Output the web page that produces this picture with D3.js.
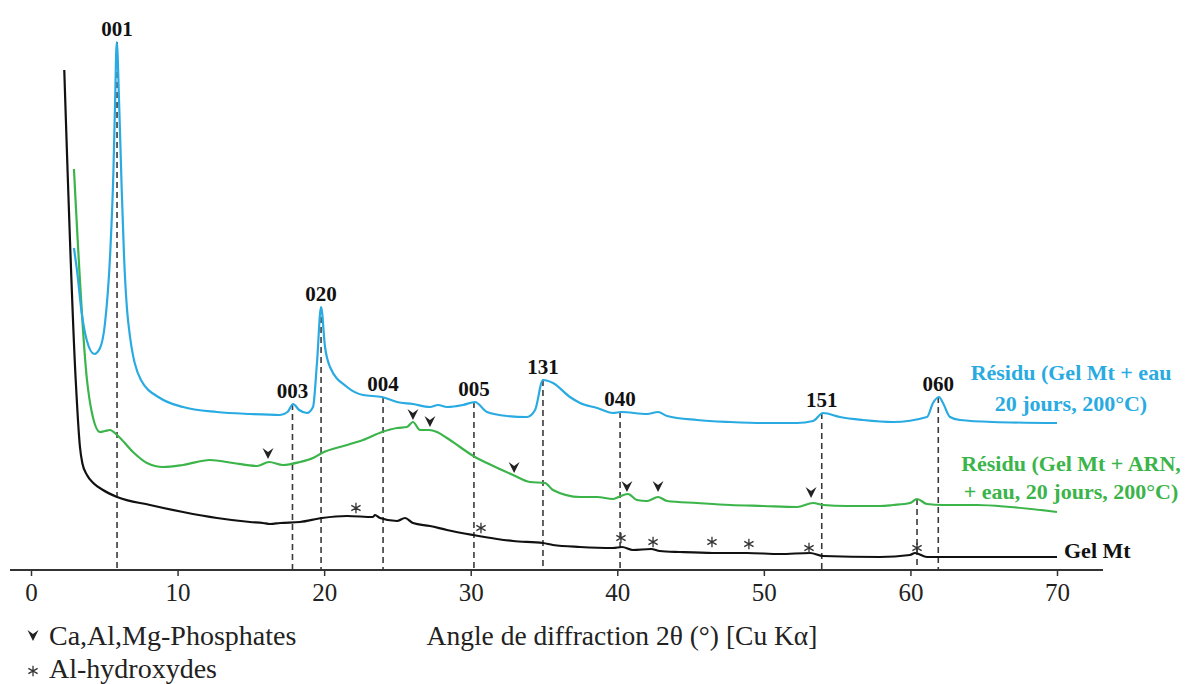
<!DOCTYPE html>
<html><head><meta charset="utf-8">
<script src="https://cdn.jsdelivr.net/npm/d3@7"></script>
<style>html,body{margin:0;padding:0;background:#fff} svg{display:block}</style>
</head><body>
<svg id="chart" width="1189" height="684"></svg>
<script>
// ---------- DATA ----------
const xTicks = [0, 10, 20, 30, 40, 50, 60, 70];

// Gel Mt (black)
const gelTheta = [2.27,3.05,3.34,3.50,3.82,4.25,4.91,5.87,8.12,10.37,12.69,14.94,15.83,16.31,17.0,18.35,19.85,21.56,23.33,23.47,23.81,24.97,25.52,26.06,27.22,28.38,30.16,31.79,32.89,34.93,35.61,37.46,39.71,40.32,41.07,42.3,42.9,44.28,46.53,48.85,51.10,53.15,54.04,57.92,59.97,60.31,61.13,70.0];
const gelI     = [500,190,123,107,95,87,80,73,65,58,52,48,47,46,47,48,52,54,53,55,52,49,52,47,44,40,35,31,29,27,25,23,22,23,20,21,19,18,17,17,16,17,14,13,15,17,13,13];

// Résidu (Gel Mt + ARN + eau) (green)
const arnTheta = [2.93,3.82,4.16,4.71,5.05,5.39,5.87,6.96,7.91,9.01,10.37,12.21,13.78,15.42,16.24,17.19,18.35,19.24,19.85,21.56,22.65,23.95,24.97,25.65,26.06,26.54,27.15,27.70,28.38,29.27,30.29,31.11,32.89,34.04,35.07,35.61,37.46,38.62,39.71,40.25,40.73,41.34,42.03,42.78,43.40,45.44,47.69,49.94,52.26,53.36,54.04,55.67,57.92,58.81,59.97,60.45,61.13,62.22,64.54,66.79,70.0];
const arnI     = [401,190,157,138,139,140,135,118,107,103,105,110,107,104,108,105,108,112,117,125,130,138,142,143,148,140,140,138,132,123,113,107,95,88,87,80,73,73,71,74,76,70,69,73,69,67,65,64,63,67,65,64,64,65,67,71,66,65,65,63,58];

// Résidu (Gel Mt + eau) (blue)
const eauTheta = [2.93,3.16,3.46,3.80,4.32,4.71,5.05,5.39,5.62,5.73,5.85,6.02,6.19,6.35,6.64,7.50,8.80,10.37,12.69,14.94,16.99,17.50,17.88,18.30,18.83,19.24,19.51,19.79,20.06,20.40,21.56,22.65,23.95,24.97,26.06,27.22,27.77,28.38,29.47,30.29,31.11,32.48,33.84,34.39,34.93,35.61,36.77,37.46,38.62,39.71,40.25,42.03,42.78,43.40,45.44,47.69,49.94,52.26,53.36,54.04,55.19,56.76,58.81,61.13,61.54,61.95,62.22,62.70,63.38,65.63,70.0];
const eauI     = [322,297,257,230,216,222,247,313,397,463,528,463,380,313,247,190,172,163,158,156,155,158,166,160,157,163,207,263,223,203,183,175,173,168,166,163,165,163,165,168,158,154,153,160,190,187,173,167,162,157,158,156,158,154,150,148,147,147,149,157,153,150,148,153,167,173,167,153,150,148,147];

// Indexed reflections (dashed lines)
const peakLabels = ["001","003","020","004","005","131","040","151","060",""];
const peakTheta  = [5.87,17.84,19.79,24.02,30.22,34.93,40.19,53.95,61.90,60.45];
const peakTop    = [528,166,263,173,168,190,158,157,173,71];

// Phase markers
const phosTheta = [16.17,26.06,27.22,32.96,40.66,42.78,53.22];
const phosI     = [116,155,148,102,83,83,77];
const hydTheta  = [22.17,30.70,40.25,42.44,46.46,48.98,53.08,60.45];
const hydI      = [62,42,32,28,28,26,22,22];

// Texts
const xTitle = "Angle de diffraction 2\u03B8 (\u00B0) [Cu K\u03B1]";
const eauName = ["R\u00E9sidu (Gel Mt + eau", "20 jours, 200\u00B0C)"];
const arnName = ["R\u00E9sidu (Gel Mt + ARN,", "+ eau, 20 jours, 200\u00B0C)"];
const gelName = ["Gel Mt"];
const legendNames = ["Ca,Al,Mg-Phosphates", "Al-hydroxydes"];

// ---------- CHART ----------
const svg = d3.select("#chart");
const serif = "'Liberation Serif','Times New Roman',Times,serif";
const x = d3.scaleLinear().domain([0, 70]).range([31, 1057]);
const y = d3.scaleLinear().domain([0, 540]).range([570, 30]);

const BLUE = "#29abe2", GREEN = "#3bb44a", BLACK = "#111";

// dashed reflection lines
svg.append("g").selectAll("line").data(d3.range(peakTheta.length)).join("line")
  .attr("x1", i => x(peakTheta[i])).attr("x2", i => x(peakTheta[i]))
  .attr("y1", i => y(peakTop[i])).attr("y2", y(0))
  .attr("stroke", "#3a3a3a").attr("stroke-width", 1.6).attr("stroke-dasharray", "6,4");

// curves
const line = d3.line().x(d => x(d[0])).y(d => y(d[1])).curve(d3.curveMonotoneX);
const series = [
  {t: gelTheta, v: gelI, c: BLACK},
  {t: arnTheta, v: arnI, c: GREEN},
  {t: eauTheta, v: eauI, c: BLUE}
];
svg.append("g").selectAll("path").data(series).join("path")
  .attr("d", s => line(d3.zip(s.t, s.v)))
  .attr("fill", "none").attr("stroke", s => s.c).attr("stroke-width", 2.2)
  .attr("stroke-linejoin", "round");

// axis
const axisG = svg.append("g").attr("transform", `translate(0,${y(0)})`)
  .call(d3.axisBottom(x).tickValues(xTicks).tickSize(6).tickPadding(7).tickFormat(d3.format("d")));
axisG.select(".domain").remove();
axisG.selectAll(".tick line").attr("stroke", "#333").attr("stroke-width", 1.5);
axisG.selectAll(".tick text").attr("font-family", serif).attr("font-size", 25).attr("fill", "#222");
axisG.append("line").attr("x1", 10).attr("x2", 1103).attr("y1", 0).attr("y2", 0)
  .attr("stroke", "#333").attr("stroke-width", 2.2);

svg.append("text").attr("x", 622).attr("y", 645).attr("text-anchor", "middle")
  .attr("font-family", serif).attr("font-size", 27.5).attr("fill", "#222").text(xTitle);

// peak labels
svg.append("g").selectAll("text").data(d3.range(peakLabels.length).filter(i => peakLabels[i])).join("text")
  .attr("x", i => x(peakTheta[i])).attr("y", i => y(peakTop[i]) - 6)
  .attr("text-anchor", "middle").attr("font-family", serif).attr("font-weight", "bold")
  .attr("font-size", 21).attr("fill", "#111").text(i => peakLabels[i]);

// markers
const chevron = "M-5.5,-6 L0,-2 L5.5,-6 L0,5 Z";
svg.append("g").selectAll("path").data(d3.zip(phosTheta, phosI)).join("path")
  .attr("transform", d => `translate(${x(d[0])},${y(d[1])})`)
  .attr("d", chevron).attr("fill", "#222");
const ast = d3.symbol().type(d3.symbolAsterisk).size(80);
svg.append("g").selectAll("path").data(d3.zip(hydTheta, hydI)).join("path")
  .attr("transform", d => `translate(${x(d[0])},${y(d[1])})`)
  .attr("d", ast).attr("fill", "none").attr("stroke", "#333").attr("stroke-width", 1.3);

// series names
function names(lines, cx, y0, dy, color, anchor) {
  svg.append("g").selectAll("text").data(lines).join("text")
    .attr("x", cx).attr("y", (d, i) => y0 + i * dy).attr("text-anchor", anchor)
    .attr("font-family", serif).attr("font-weight", "bold").attr("font-size", 22)
    .attr("fill", color).text(d => d);
}
names(eauName, 1071, 380, 31, BLUE, "middle");
names(arnName, 1071, 471, 28, GREEN, "middle");
names(gelName, 1064, 558, 0, BLACK, "start");

// legend
const lg = svg.append("g");
lg.append("path").attr("transform", "translate(33,636)").attr("d", chevron).attr("fill", "#222");
lg.append("path").attr("transform", "translate(33,671)").attr("d", ast).attr("fill", "none")
  .attr("stroke", "#333").attr("stroke-width", 1.3);
lg.selectAll("text").data(legendNames).join("text")
  .attr("x", 49).attr("y", (d, i) => 645 + i * 33)
  .attr("font-family", serif).attr("font-size", 28).attr("fill", "#222").text(d => d);
</script>
</body></html>
